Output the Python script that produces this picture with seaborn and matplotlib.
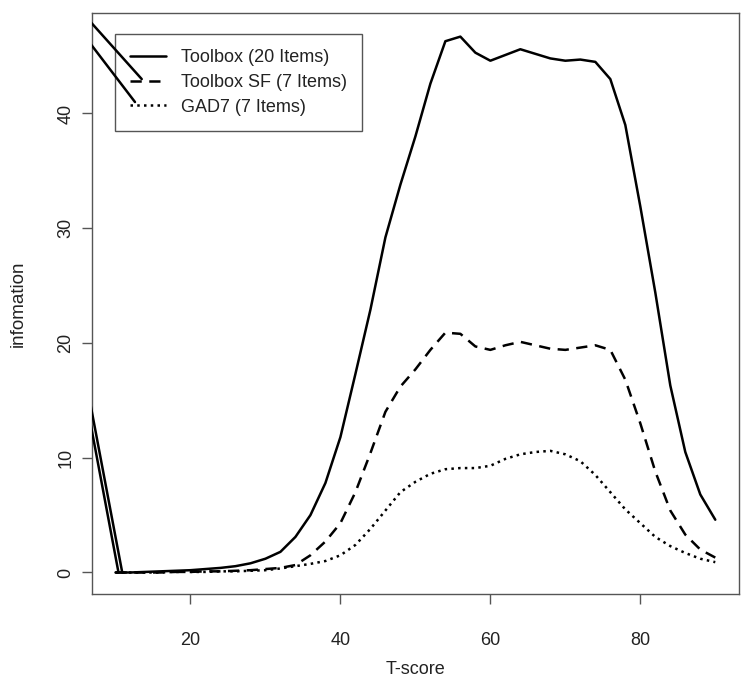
import numpy as np
import pandas as pd
import matplotlib
matplotlib.use("Agg")
import matplotlib.pyplot as plt
import seaborn as sns
from matplotlib.lines import Line2D

# T-score grid
t_score = [10, 12, 14, 16, 18, 20, 22, 24, 26, 28, 30, 32, 34, 36, 38, 40, 42, 44, 46, 48,
           50, 52, 54, 56, 58, 60, 62, 64, 66, 68, 70, 72, 74, 76, 78, 80, 82, 84, 86, 88, 90]

# information curves
toolbox_20 = [0.0, 0.0, 0.05, 0.1, 0.15, 0.2, 0.3, 0.4, 0.55, 0.8, 1.2, 1.8, 3.1, 5.0, 7.8, 11.8,
              17.3, 22.9, 29.2, 33.8, 38.0, 42.6, 46.3, 46.7, 45.3, 44.6, 45.1, 45.6, 45.2, 44.8,
              44.6, 44.7, 44.5, 43.0, 39.0, 31.9, 24.4, 16.3, 10.5, 6.8, 4.6]
toolbox_sf = [0.0, 0.0, 0.0, 0.0, 0.05, 0.05, 0.1, 0.1, 0.15, 0.2, 0.3, 0.4, 0.65, 1.5, 2.7, 4.3,
              7.0, 10.4, 14.0, 16.2, 17.7, 19.4, 20.9, 20.8, 19.7, 19.4, 19.8, 20.1, 19.8, 19.5,
              19.4, 19.6, 19.8, 19.4, 16.8, 13.0, 8.8, 5.4, 3.3, 2.0, 1.3]
gad7 = [0.0, 0.0, 0.0, 0.0, 0.05, 0.05, 0.05, 0.1, 0.1, 0.15, 0.2, 0.35, 0.55, 0.75, 1.0, 1.5,
        2.4, 3.8, 5.4, 7.0, 7.9, 8.6, 9.0, 9.1, 9.1, 9.3, 9.9, 10.3, 10.5, 10.6, 10.3, 9.7,
        8.5, 7.0, 5.5, 4.3, 3.1, 2.3, 1.7, 1.2, 0.9]

labels = ["Toolbox (20 Items)", "Toolbox SF (7 Items)", "GAD7 (7 Items)"]

# stray segments visible in the original (clipped by the plot box)
stray_low_x = [[5.0, 10.4], [5.0, 10.9]]
stray_low_y = [[18.8, 0.0], [20.4, 0.0]]
stray_top_x = [[5.0, 13.5], [5.0, 12.6]]
stray_top_y = [[49.2, 43.0], [47.5, 41.0]]

sns.set_style("white")
plt.rcParams['font.family'] = ['Liberation Sans', 'DejaVu Sans']

fig = plt.figure(figsize=(7.5, 6.94), dpi=100)
ax = fig.add_axes([0.122, 0.1441, 0.8637, 0.8367])

lw = 1.8
styles = ['-', (0, (4.5, 3.0)), (0, (1.0, 1.7))]
series = [toolbox_20, toolbox_sf, gad7]
for vals, ls, lab in zip(series, styles, labels):
    df = pd.DataFrame({'t': t_score, 'info': vals})
    sns.lineplot(data=df, x='t', y='info', ax=ax, color='black', lw=lw,
                 linestyle=ls, legend=False)

# drawn above the legend box, as in the original
for xs, ys in zip(stray_low_x + stray_top_x, stray_low_y + stray_top_y):
    ax.plot(xs, ys, color='black', lw=lw, zorder=6)

ax.set_xlim(6.8, 93.2)
ax.set_ylim(-1.874, 48.73)
ax.set_xticks([20, 40, 60, 80])
ax.set_yticks([0, 10, 20, 30, 40])

for s in ax.spines.values():
    s.set_color('#555555')
    s.set_linewidth(1)

ax.tick_params(axis='both', direction='out', length=7.5, width=1, color='#555555',
               labelsize=13, labelcolor='#222222')
ax.tick_params(axis='x', pad=20, bottom=True)
ax.tick_params(axis='y', pad=5, left=True)
plt.setp(ax.get_yticklabels(), rotation=90, va='center')

ax.set_xlabel('T-score', fontsize=13, color='#222222')
ax.set_ylabel('infomation', fontsize=13.5, color='#222222')
ax.xaxis.label.set_va('center')
ax.yaxis.label.set_va('center')
ax.xaxis.set_label_coords(0.5, -0.1295)
ax.yaxis.set_label_coords(-0.1135, 0.5)

handles = [Line2D([], [], color='black', lw=lw, linestyle=ls) for ls in styles]
leg = ax.legend(handles, labels, loc='upper left', bbox_to_anchor=(0.0363, 0.9644),
                fontsize=13, frameon=True, fancybox=False, framealpha=1,
                edgecolor='#555555', borderpad=0.85, labelspacing=0.42,
                handlelength=1.95, handletextpad=0.85, borderaxespad=0)
leg.get_frame().set_linewidth(1)
leg.set_zorder(5)
for t in leg.get_texts():
    t.set_color('#222222')

plt.savefig('out.png', dpi=100)
